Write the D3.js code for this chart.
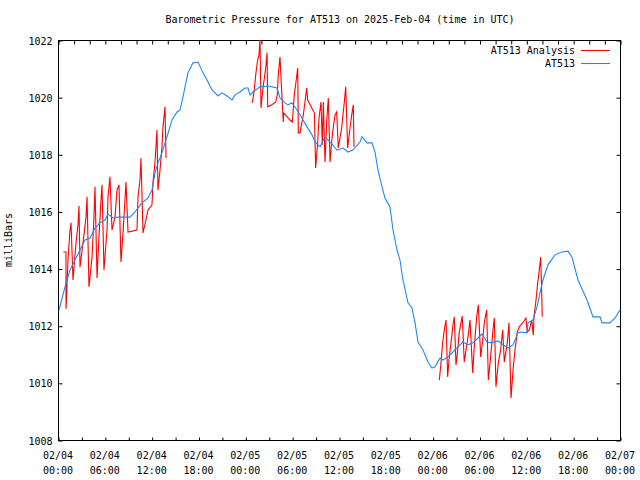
<!DOCTYPE html>
<html>
<head>
<meta charset="utf-8">
<script src="https://cdn.jsdelivr.net/npm/d3@7"></script>
<style>
  html, body { margin: 0; padding: 0; background: #fff; }
  svg text { font-family: "DejaVu Sans Mono", "Liberation Mono", monospace; font-size: 10px; fill: #000; }
</style>
</head>
<body>
<svg id="chart" width="640" height="480"></svg>
<script>
// ---- data ----
const titleText = "Barometric Pressure for AT513 on 2025-Feb-04 (time in UTC)";
const yLabel = "milliBars";
const seriesNames = ["AT513 Analysis", "AT513"];
const startUTC = Date.UTC(2025, 1, 4, 0, 0);
const yTickValues = [1008, 1010, 1012, 1014, 1016, 1018, 1020, 1022];

// station observations (hours since 02/04 00:00 UTC, mbar)
const stationHours = [0.13,0.90,1.54,2.18,2.82,3.46,4.10,4.74,5.38,6.02,6.41,7.05,7.69,9.22,9.86,10.76,11.53,12.04,12.43,12.81,13.32,13.96,14.60,15.25,15.63,16.01,16.65,17.29,17.94,18.58,19.22,19.73,20.50,21.01,21.65,22.29,22.68,23.32,23.96,24.34,24.60,24.98,25.88,26.90,28.06,28.44,29.08,29.47,29.98,30.62,31.26,31.90,32.54,32.92,33.57,34.21,34.85,35.74,36.51,37.15,37.79,38.69,38.95,39.59,40.23,40.61,40.99,41.51,41.89,42.53,42.92,43.43,43.81,44.20,44.84,45.35,45.74,46.12,46.76,47.40,47.91,48.30,48.94,49.32,49.96,50.60,51.24,51.88,52.53,53.17,53.81,54.32,54.96,55.60,56.37,56.88,57.65,58.29,58.93,59.44,60.08,60.21,60.85,61.37,61.75,62.13,62.77,63.67,64.57,65.34,65.85,66.62,67.77,68.54,69.44,69.69,70.72,71.36,72.00];
const stationMbar = [1012.55,1013.36,1013.95,1014.30,1014.65,1015.00,1015.07,1015.42,1015.60,1015.70,1015.91,1015.77,1015.80,1015.80,1015.98,1016.30,1016.47,1016.75,1017.35,1017.70,1018.05,1018.61,1019.20,1019.48,1019.55,1020.01,1020.85,1021.20,1021.23,1020.85,1020.53,1020.25,1020.04,1020.15,1020.04,1019.90,1020.08,1020.18,1020.32,1020.32,1020.08,1020.18,1020.36,1020.39,1020.32,1019.97,1019.80,1019.73,1019.80,1019.55,1019.27,1018.96,1018.68,1018.43,1018.26,1018.61,1018.43,1018.15,1018.22,1018.08,1018.15,1018.43,1018.61,1018.40,1018.40,1018.08,1017.45,1016.86,1016.47,1016.16,1015.35,1014.65,1014.30,1013.60,1012.80,1012.62,1012.10,1011.43,1011.15,1010.73,1010.52,1010.56,1010.87,1010.80,1010.91,1011.08,1011.26,1011.43,1011.33,1011.40,1011.57,1011.71,1011.43,1011.40,1011.47,1011.36,1011.22,1011.33,1011.75,1011.78,1011.75,1012.10,1012.20,1012.66,1013.15,1013.60,1014.13,1014.48,1014.58,1014.61,1014.40,1013.60,1012.90,1012.31,1012.31,1012.10,1012.10,1012.27,1012.55];

// analysis (three separate runs; null marks a gap)
const analysisHours = [
  0.68,1.02,1.03,1.28,1.54,1.67,1.92,2.31,2.56,2.69,2.82,3.20,3.59,3.72,3.97,4.36,4.61,4.74,5.00,5.25,5.51,5.64,5.89,6.28,6.41,6.66,6.92,7.30,7.56,7.81,8.07,8.33,8.58,8.71,8.97,10.12,10.25,10.50,10.63,10.89,11.27,11.53,12.04,12.17,12.43,12.68,12.81,13.07,13.32,13.45,13.71,13.84,
  null,
  24.89,25.11,25.37,25.58,25.75,25.88,26.01,26.26,26.61,26.78,26.87,27.38,27.89,28.09,28.22,28.44,28.86,28.90,29.72,30.02,30.27,30.49,30.71,30.79,31.00,31.43,31.64,31.86,31.99,32.84,33.01,33.27,33.44,33.69,33.86,33.99,34.21,34.42,34.63,34.85,35.14,35.49,35.70,35.91,36.34,36.68,36.86,37.11,37.41,37.63,37.83,37.92,
  null,
  48.85,49.07,49.28,49.49,49.71,49.92,50.09,50.35,50.57,50.77,50.99,51.21,51.40,51.62,51.79,52.05,52.27,52.56,52.78,53.13,53.33,53.64,53.85,54.15,54.41,54.61,54.92,55.13,55.43,55.69,55.90,56.11,56.41,56.71,56.97,57.18,57.56,57.78,58.04,58.33,58.55,58.84,59.10,59.61,59.95,60.12,60.38,60.69,60.89,60.98,61.24,61.46,61.66,61.84,61.97,62.04
];
const analysisMbar = [
  1014.58,1014.58,1012.59,1014.30,1015.35,1015.60,1013.60,1014.90,1015.53,1016.19,1014.05,1014.90,1015.80,1016.51,1013.36,1014.40,1015.80,1016.86,1013.67,1015.11,1016.40,1016.93,1013.95,1015.35,1016.51,1017.21,1015.35,1015.80,1016.75,1016.93,1014.23,1015.25,1016.40,1017.03,1015.28,1015.35,1016.51,1017.10,1017.87,1015.25,1015.70,1016.05,1016.22,1017.03,1017.73,1018.85,1016.75,1017.45,1018.26,1018.96,1019.66,1017.87,
  null,
  1019.80,1020.18,1020.88,1021.30,1021.48,1022.00,1019.62,1020.32,1021.02,1021.55,1019.66,1019.73,1019.83,1020.08,1020.78,1021.40,1019.13,1019.45,1019.20,1019.13,1020.08,1020.53,1021.02,1018.75,1018.75,1019.38,1019.83,1020.32,1019.90,1019.45,1017.52,1018.43,1019.27,1019.83,1018.33,1019.83,1017.73,1019.13,1019.97,1017.73,1018.68,1019.38,1019.48,1018.22,1018.92,1019.83,1020.36,1018.22,1018.92,1019.38,1019.73,1018.26,
  null,
  1010.10,1010.70,1011.40,1011.85,1012.20,1010.21,1010.80,1011.40,1011.96,1012.31,1010.63,1011.15,1011.75,1012.10,1012.34,1010.73,1011.15,1011.67,1012.20,1010.35,1011.26,1012.31,1012.73,1010.91,1011.50,1012.10,1012.55,1010.10,1010.91,1011.75,1012.27,1009.86,1010.70,1011.15,1011.85,1010.73,1011.40,1012.10,1009.47,1010.56,1011.15,1011.78,1011.96,1012.13,1012.27,1011.78,1011.85,1012.20,1011.67,1012.31,1012.90,1013.50,1013.95,1014.40,1013.15,1012.31
];

// ---- drawing ----
const svg = d3.select("#chart");
const L = 58, R = 620, T = 40, B = 440;
const hourMs = 3600 * 1000;
const x = d3.scaleUtc().domain([new Date(startUTC), new Date(startUTC + 72 * hourMs)]).range([L, R]);
const y = d3.scaleLinear().domain([1008, 1022]).range([B, T]);
const toDate = h => new Date(startUTC + h * hourMs);

// plot border
svg.append("rect").attr("x", L + 0.5).attr("y", T + 0.5).attr("width", R - L).attr("height", B - T)
  .attr("fill", "none").attr("stroke", "#000").attr("stroke-width", 1);

// bottom axis: ticks every 3h, labels every 6h
svg.append("g").attr("transform", `translate(0.5,${B + 0.5})`)
  .call(d3.axisBottom(x).ticks(d3.utcHour.every(3)).tickSize(-3).tickFormat(() => ""));
const majorTicks = x.ticks(d3.utcHour.every(6));
const fmtDate = d3.utcFormat("%m/%d"), fmtTime = d3.utcFormat("%H:%M");
const lbl = svg.append("g");
majorTicks.forEach(d => {
  const t = lbl.append("text").attr("text-anchor", "middle").attr("x", x(d));
  t.append("tspan").attr("x", x(d)).attr("y", 459).text(fmtDate(d));
  t.append("tspan").attr("x", x(d)).attr("y", 474).text(fmtTime(d));
});

// top axis: ticks every 2h, no labels
svg.append("g").attr("transform", `translate(0.5,${T + 0.5})`)
  .call(d3.axisTop(x).ticks(d3.utcHour.every(2)).tickSize(-4).tickFormat(() => ""));

// left axis
svg.append("g").attr("transform", `translate(${L + 0.5},0.5)`)
  .call(d3.axisLeft(y).tickValues(yTickValues).tickSize(-4).tickPadding(6).tickFormat(d3.format("d")))
  .call(g => g.selectAll("text").attr("dy", "0.35em").style("font-family", "DejaVu Sans Mono").style("font-size", "10px"));
// right axis
svg.append("g").attr("transform", `translate(${R + 0.5},0.5)`)
  .call(d3.axisRight(y).tickValues(yTickValues).tickSize(-4).tickFormat(() => ""));

svg.selectAll(".domain").remove();
svg.selectAll(".tick line").attr("stroke", "#000");

// clip
svg.append("clipPath").attr("id", "clip").append("rect").attr("x", L).attr("y", T - 1).attr("width", R - L + 1).attr("height", B - T + 2);

const stationData = stationHours.map((h, i) => ({ t: toDate(h), v: stationMbar[i] }));
const analysisData = analysisHours.map((h, i) => ({ t: h === null ? null : toDate(h), v: analysisMbar[i] }));

const line = d3.line().defined(d => d.t !== null && d.v !== null).x(d => x(d.t)).y(d => y(d.v));

svg.append("path").datum(analysisData).attr("clip-path", "url(#clip)")
  .attr("d", line).attr("fill", "none").attr("stroke", "#ff0000").attr("stroke-width", 1.1);
svg.append("path").datum(stationData).attr("clip-path", "url(#clip)")
  .attr("d", line).attr("fill", "none").attr("stroke", "#1e88f5").attr("stroke-width", 1.1);

// title
svg.append("text").attr("x", 340).attr("y", 23).attr("text-anchor", "middle").text(titleText);
// y label
svg.append("text").attr("transform", "translate(12,240) rotate(-90)").attr("text-anchor", "middle").text(yLabel);

// legend
const legendColors = ["#ff0000", "#1e88f5"];
seriesNames.forEach((name, i) => {
  const ly = 50 + i * 13;
  svg.append("text").attr("x", 575).attr("y", ly).attr("dy", "0.35em").attr("text-anchor", "end").text(name);
  svg.append("line").attr("x1", 581).attr("x2", 610).attr("y1", ly + 0.5).attr("y2", ly + 0.5)
    .attr("stroke", legendColors[i]).attr("stroke-width", 1.1);
});
</script>
</body>
</html>
